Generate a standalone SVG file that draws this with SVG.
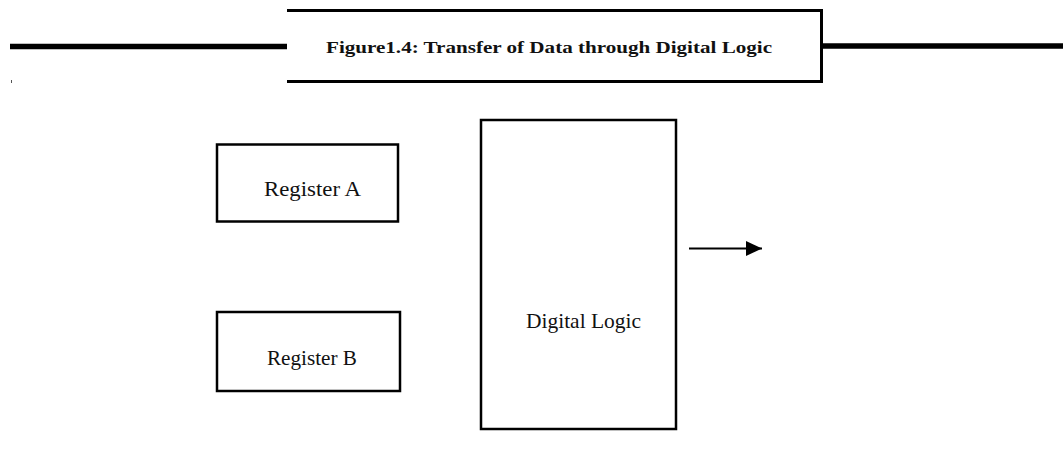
<svg xmlns="http://www.w3.org/2000/svg" width="1063" height="468" viewBox="0 0 1063 468">
  <defs>
    <style>
      .box { fill: #ffffff; stroke: #000000; stroke-width: 2.5; }
      .lbl { font-family: "Liberation Serif", "Times New Roman", serif; font-size: 22px; fill: #111111; }
      .cap { font-family: "Liberation Serif", "Times New Roman", serif; font-size: 17px; font-weight: bold; fill: #111111; }
      .rule { stroke: #000000; fill: none; }
    </style>
    <marker id="arrowHead" markerUnits="userSpaceOnUse" markerWidth="18" markerHeight="16" refX="16" refY="7.5" orient="auto">
      <path d="M0,0 L16,7.5 L0,15 Z" fill="#000000"/>
    </marker>
  </defs>

  <rect width="1063" height="468" fill="#ffffff"/>

  <!-- caption banner -->
  <g id="caption">
    <line class="rule" x1="10" y1="46.5" x2="287" y2="46.5" stroke-width="5.5"/>
    <line class="rule" x1="823" y1="46" x2="1063" y2="46" stroke-width="5.5"/>
    <polyline class="rule" points="287,10.5 821.5,10.5 821.5,81.5 287,81.5" stroke-width="3"/>
    <rect x="11" y="80" width="1" height="3" fill="#555555"/>
    <text class="cap" x="326" y="53" textLength="446" lengthAdjust="spacingAndGlyphs">Figure1.4: Transfer of Data through Digital Logic</text>
  </g>

  <!-- Register A -->
  <g id="register-a">
    <rect class="box" x="217" y="144.5" width="181" height="77"/>
    <text class="lbl" x="264" y="196" textLength="97" lengthAdjust="spacingAndGlyphs">Register A</text>
  </g>

  <!-- Register B -->
  <g id="register-b">
    <rect class="box" x="217" y="312" width="183" height="79"/>
    <text class="lbl" x="267" y="365" textLength="90" lengthAdjust="spacingAndGlyphs">Register B</text>
  </g>

  <!-- Digital Logic block -->
  <g id="digital-logic">
    <rect class="box" x="481" y="120" width="195" height="309"/>
    <text class="lbl" x="526" y="328" textLength="115" lengthAdjust="spacingAndGlyphs">Digital Logic</text>
  </g>

  <!-- output connector -->
  <g id="connectors">
    <line x1="689" y1="248.5" x2="762" y2="248.5" stroke="#000000" stroke-width="2" marker-end="url(#arrowHead)"/>
  </g>
</svg>
